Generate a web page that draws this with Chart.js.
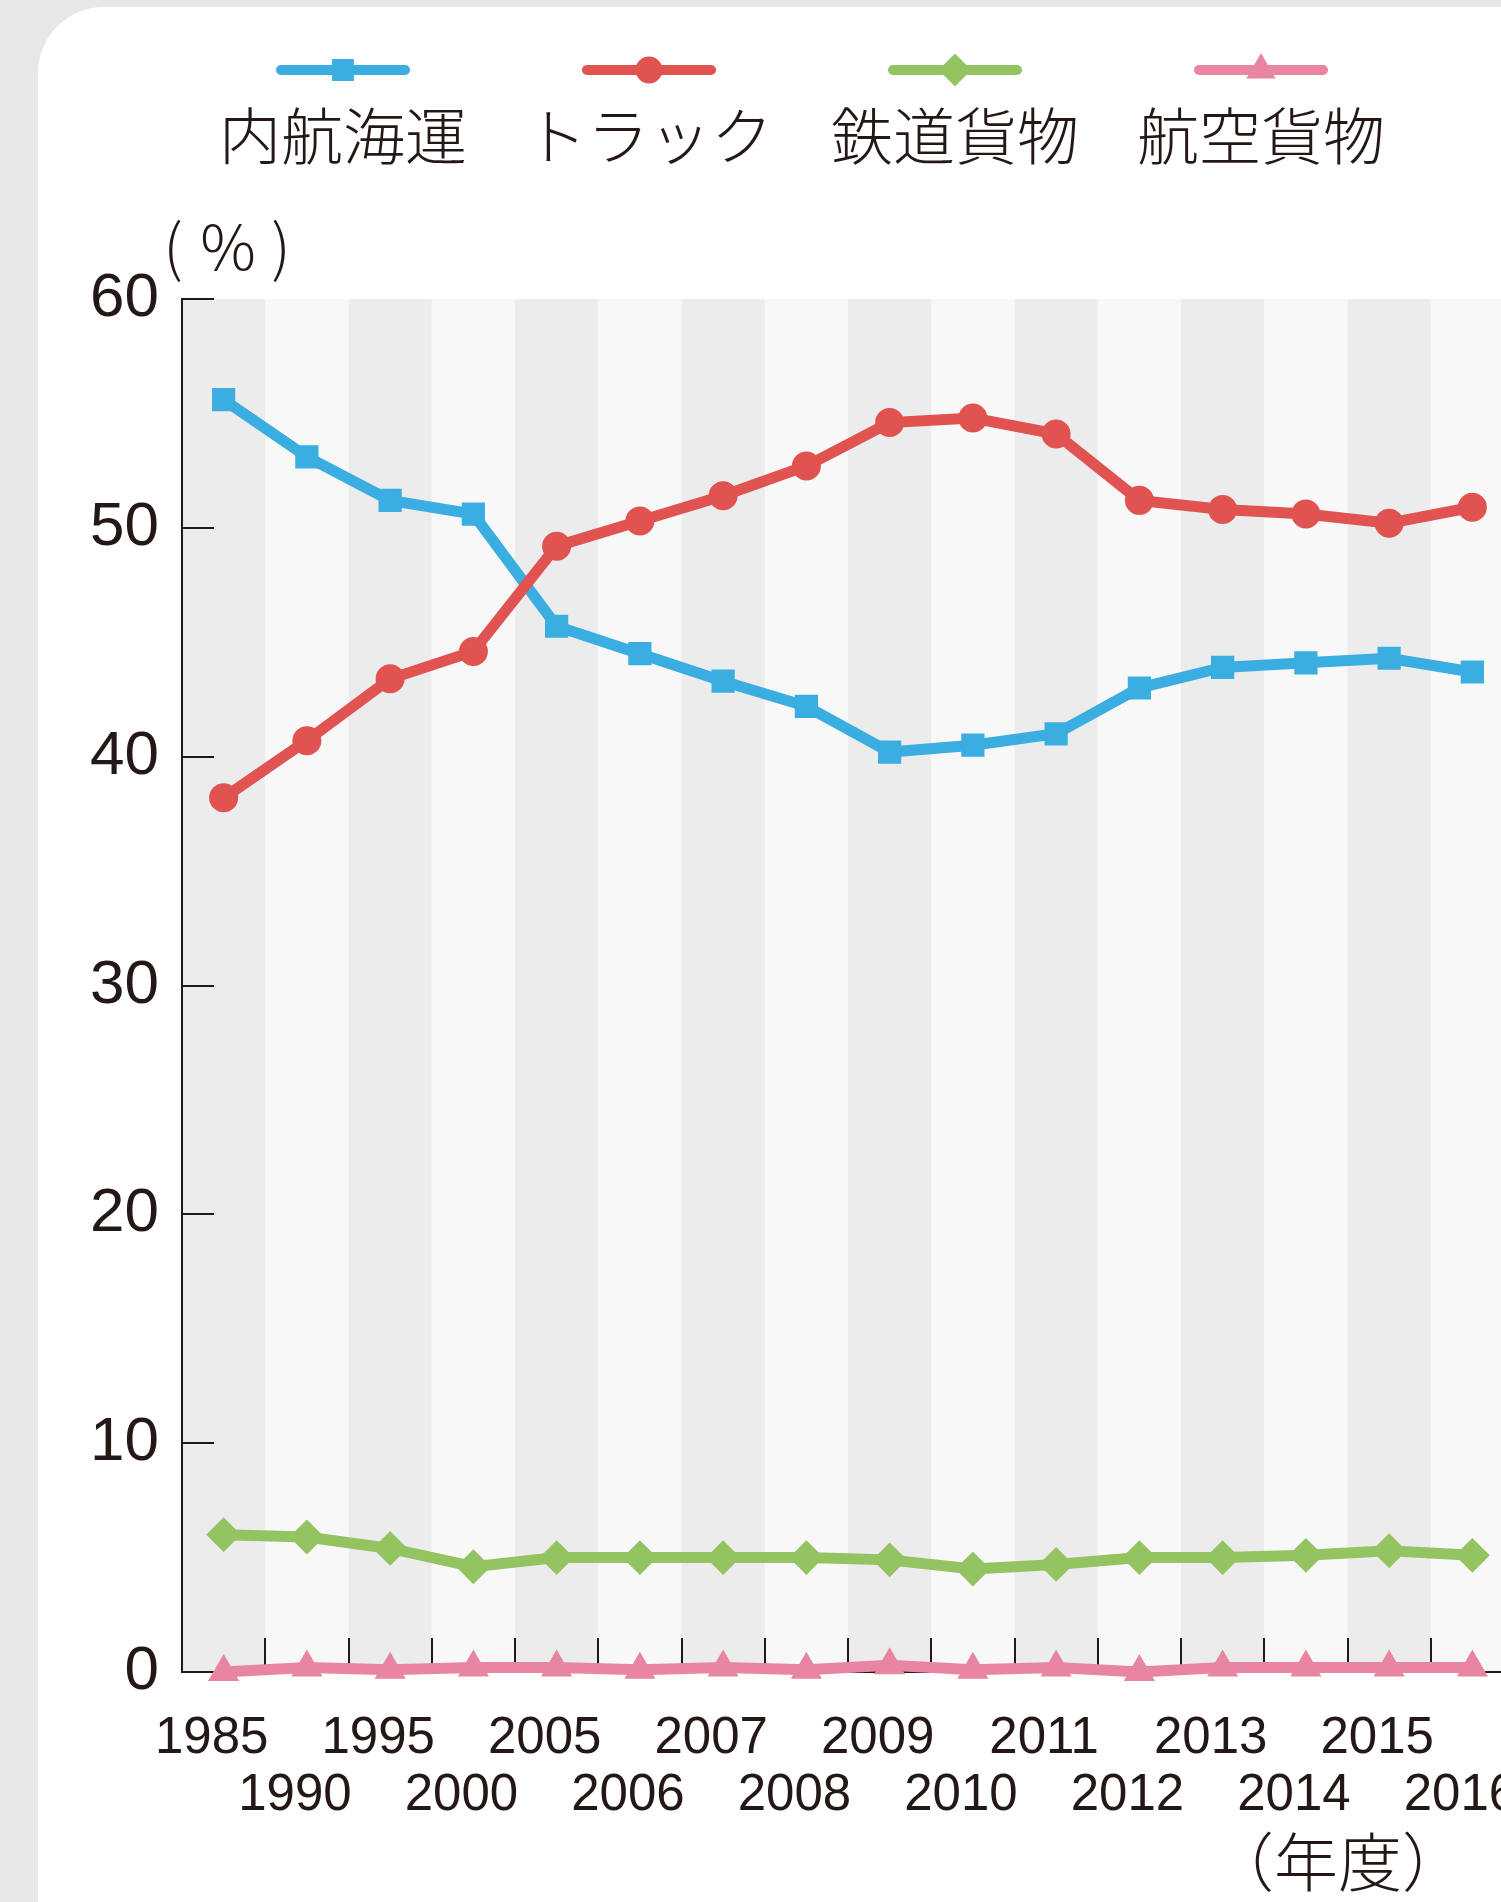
<!DOCTYPE html>
<html lang="ja">
<head>
<meta charset="utf-8">
<title>輸送機関別分担率</title>
<script src="https://cdn.jsdelivr.net/npm/chart.js@4.4.1/dist/chart.umd.min.js"></script>
<style>
  html, body { margin: 0; padding: 0; }
  body { width: 1501px; height: 1902px; overflow: hidden; background: #e6e7e9; position: relative; }
  #card { position: absolute; left: 38px; top: 7px; width: 1600px; height: 2000px; background: #fff; border-top-left-radius: 66px; }
  #chart { position: absolute; left: 0; top: 0; }
</style>
</head>
<body>
<div id="card"></div>
<canvas id="chart" width="1560" height="1902"></canvas>
<script>
// 年度
const years = ['1985', '1990', '1995', '2000', '2005', '2006', '2007', '2008',
               '2009', '2010', '2011', '2012', '2013', '2014', '2015', '2016'];

// 分担率 (%)
const coastalShipping = [55.6, 53.1, 51.2, 50.6, 45.7, 44.5, 43.3, 42.2, 40.2, 40.5, 41.0, 43.0, 43.9, 44.1, 44.3, 43.7];
const truck           = [38.2, 40.7, 43.4, 44.6, 49.2, 50.3, 51.4, 52.7, 54.6, 54.8, 54.1, 51.2, 50.8, 50.6, 50.2, 50.9];
const railFreight     = [6.0, 5.9, 5.4, 4.6, 5.0, 5.0, 5.0, 5.0, 4.9, 4.5, 4.7, 5.0, 5.0, 5.1, 5.3, 5.1];
const airFreight      = [0.0, 0.2, 0.1, 0.2, 0.2, 0.1, 0.2, 0.1, 0.3, 0.1, 0.2, 0.0, 0.2, 0.2, 0.2, 0.2];

const seriesNames = ['内航海運', 'トラック', '鉄道貨物', '航空貨物'];
const yTicks = [0, 10, 20, 30, 40, 50, 60];

const ink = '#231815';
const numFont = '"Liberation Sans", Arial, sans-serif';
const jpFont = '"Noto Sans CJK JP", sans-serif';

// alternating grey columns behind the lines
const bandPlugin = {
    id: 'bands',
    beforeDraw(chart) {
        const { ctx, chartArea, scales } = chart;
        const x = scales.x;
        const step = x.getPixelForValue(1) - x.getPixelForValue(0);
        ctx.save();
        years.forEach((yr, i) => {
            const c = x.getPixelForValue(i);
            ctx.fillStyle = i % 2 === 0 ? '#ececec' : '#f8f8f8';
            ctx.fillRect(c - step / 2, chartArea.top, step, chartArea.bottom - chartArea.top);
        });
        ctx.restore();
    }
};

// legend (line sample above the name) and the unit captions
const captionPlugin = {
    id: 'captions',
    afterDraw(chart) {
        const { ctx, chartArea } = chart;
        ctx.save();
        chart.data.datasets.forEach((ds, i) => {
            const cx = 343 + i * 306;
            const ly = 70;
            ctx.strokeStyle = ds.borderColor;
            ctx.fillStyle = ds.borderColor;
            ctx.lineWidth = 10;
            ctx.lineCap = 'round';
            ctx.beginPath();
            ctx.moveTo(cx - 62, ly);
            ctx.lineTo(cx + 62, ly);
            ctx.stroke();
            ctx.lineWidth = 2;
            Chart.helpers.drawPoint(ctx, { pointStyle: ds.pointStyle, radius: ds.pointRadius - 1, borderWidth: 2, rotation: 0 }, cx, ly);

            ctx.fillStyle = ink;
            ctx.font = '300 62px ' + jpFont;
            ctx.textAlign = 'center';
            ctx.textBaseline = 'middle';
            ctx.fillText(ds.label, cx, 136);
        });

        // (%) above the value axis, (年度) under the last labels
        ctx.fillStyle = ink;
        ctx.textAlign = 'center';
        ctx.textBaseline = 'middle';
        ctx.font = '300 62px ' + jpFont;
        const ty = chartArea.top - 53;
        ctx.fillText('(', 173, ty);
        ctx.fillText('%', 228, ty);
        ctx.fillText(')', 281, ty);
        ctx.font = '300 64px ' + jpFont;
        ctx.fillText('（年度）', 1338, 1862);
        ctx.restore();
    }
};

function series(label, data, color, style, radius, order) {
    return {
        label: label,
        data: data,
        borderColor: color,
        backgroundColor: color,
        borderWidth: 11,
        pointStyle: style,
        pointRadius: radius,
        pointBorderWidth: 2,
        pointHoverRadius: radius,
        tension: 0,
        clip: false,
        order: order
    };
}

const ctx = document.getElementById('chart').getContext('2d');
const shareChart = new Chart(ctx, {
    type: 'line',
    data: {
        labels: years,
        datasets: [
            series(seriesNames[0], coastalShipping, '#3aade1', 'rect', 15, 2),
            series(seriesNames[1], truck, '#e05350', 'circle', 13.5, 1),
            series(seriesNames[2], railFreight, '#94c461', 'rectRot', 16, 3),
            series(seriesNames[3], airFreight, '#e886a2', 'triangle', 16, 0)
        ]
    },
    options: {
        responsive: false,
        animation: false,
        events: [],
        layout: { padding: { top: 299, left: 0, right: 46, bottom: 0 } },
        plugins: {
            legend: { display: false },
            tooltip: { enabled: false }
        },
        scales: {
            x: {
                offset: true,
                afterFit: s => {
                    s.height = 230;
                    s.paddingLeft = 0;
                    s.paddingRight = 0;
                },
                grid: {
                    offset: true,
                    drawOnChartArea: false,
                    drawTicks: true,
                    tickLength: -34,
                    color: ink,
                    lineWidth: 2
                },
                border: { display: true, color: ink, width: 2 },
                ticks: {
                    autoSkip: false,
                    maxRotation: 0,
                    minRotation: 0,
                    padding: 72,
                    labelOffset: -12,
                    color: ink,
                    font: { family: numFont, size: 51, lineHeight: 1.12 },
                    callback: (v, i) => (i % 2 ? ['', years[i]] : years[i])
                }
            },
            y: {
                min: 0,
                max: 60,
                afterFit: s => { s.width = 182; },
                afterBuildTicks: s => { s.ticks = yTicks.map(v => ({ value: v })); },
                grid: {
                    drawOnChartArea: false,
                    drawTicks: true,
                    tickLength: -32,
                    color: ink,
                    lineWidth: 2
                },
                border: { display: true, color: ink, width: 2 },
                ticks: {
                    padding: 55,
                    color: ink,
                    font: { family: numFont, size: 62 }
                }
            }
        }
    },
    plugins: [bandPlugin, captionPlugin]
});
</script>
</body>
</html>
